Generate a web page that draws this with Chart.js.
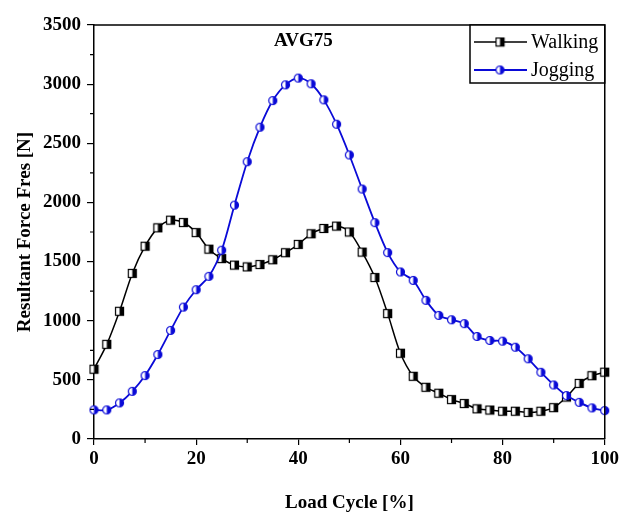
<!DOCTYPE html>
<html><head><meta charset="utf-8">
<script src="https://cdn.jsdelivr.net/npm/chart.js@4.4.0/dist/chart.umd.min.js"></script>
<style>html,body{margin:0;padding:0;background:#fff}#wrap{width:622px;height:516px}</style>
</head><body><div id="wrap"><canvas id="c" width="622" height="516"></canvas></div>
<script>
const loadCycle = [0,2.5,5,7.5,10,12.5,15,17.5,20,22.5,25,27.5,30,32.5,35,37.5,40,42.5,45,47.5,50,52.5,55,57.5,60,62.5,65,67.5,70,72.5,75,77.5,80,82.5,85,87.5,90,92.5,95,97.5,100];
const walking = [590,800,1080,1400,1630,1785,1850,1830,1745,1605,1525,1470,1455,1475,1515,1575,1645,1735,1780,1800,1750,1580,1365,1060,725,530,437,387,333,300,255,245,235,235,225,235,265,355,470,535,565];
const jogging = [246,246,305,403,536,714,918,1115,1262,1375,1596,1977,2344,2636,2861,2994,3051,3003,2867,2661,2401,2113,1829,1576,1412,1341,1172,1045,1008,975,867,833,827,776,678,564,457,367,310,263,240];
const seriesNames = ['Walking','Jogging'];
const xTicks = [0,20,40,60,80,100];
const xMinor = [10,30,50,70,90];
const yTicks = [0,500,1000,1500,2000,2500,3000,3500];
const yMinor = [250,750,1250,1750,2250,2750,3250];
const chartTitle = 'AVG75';

const FONT = "'Liberation Serif', 'Times New Roman', serif";
const BLUE = 'rgb(10,10,215)';

function makeMarker(shape, color){
  const c = document.createElement('canvas');
  c.width = 11; c.height = 11;
  const g = c.getContext('2d');
  g.lineWidth = 1.2;
  g.strokeStyle = color; g.fillStyle = '#fff';
  if (shape === 'square'){
    g.fillRect(1.5,1.5,8,8);
    g.fillStyle = color;
    g.fillRect(5.5,1.5,4,8);
    g.strokeRect(1.5,1.5,8,8);
  } else {
    g.beginPath(); g.arc(5.5,5.5,4,0,Math.PI*2); g.fill();
    g.fillStyle = color;
    g.beginPath(); g.arc(5.5,5.5,4,-Math.PI/2,Math.PI/2); g.closePath(); g.fill();
    g.beginPath(); g.arc(5.5,5.5,4,0,Math.PI*2); g.stroke();
  }
  return c;
}
const sqMarker = makeMarker('square','#000');
const ciMarker = makeMarker('circle',BLUE);

const extras = {
  id: 'extras',
  afterDraw(chart){
    const {ctx, chartArea: a, scales: {x, y}} = chart;
    ctx.save();
    ctx.strokeStyle = '#000'; ctx.lineWidth = 1.5;
    ctx.beginPath();
    ctx.moveTo(a.left, a.top); ctx.lineTo(a.right, a.top); ctx.lineTo(a.right, a.bottom);
    ctx.stroke();
    ctx.lineWidth = 1.2;
    ctx.beginPath();
    xMinor.forEach(v => { const px = x.getPixelForValue(v); ctx.moveTo(px, a.bottom); ctx.lineTo(px, a.bottom + 4); });
    yMinor.forEach(v => { const py = y.getPixelForValue(v); ctx.moveTo(a.left, py); ctx.lineTo(a.left - 4, py); });
    ctx.stroke();
    // title
    ctx.fillStyle = '#000';
    ctx.font = "bold 19px " + FONT;
    ctx.textAlign = 'center'; ctx.textBaseline = 'middle';
    ctx.fillText(chartTitle, x.getPixelForValue(41), y.getPixelForValue(3360));
    // legend
    const lx = 470, ly = 25, lw = a.right - 470, lh = 58;
    ctx.fillStyle = '#fff';
    ctx.fillRect(lx, ly, lw, lh);
    ctx.lineWidth = 1.5; ctx.strokeStyle = '#000';
    ctx.strokeRect(lx, ly, lw, lh);
    const rows = [[seriesNames[0], '#000', sqMarker, 1.5, 42], [seriesNames[1], BLUE, ciMarker, 1.8, 70]];
    rows.forEach(([name, col, mk, lwid, ry]) => {
      ctx.strokeStyle = col; ctx.lineWidth = lwid;
      ctx.beginPath(); ctx.moveTo(474, ry); ctx.lineTo(527, ry); ctx.stroke();
      ctx.drawImage(mk, 500 - 5.5, ry - 5.5);
      ctx.fillStyle = '#000';
      ctx.font = "20px " + FONT;
      ctx.textAlign = 'left'; ctx.textBaseline = 'middle';
      ctx.fillText(name, 531, ry + 1);
    });
    ctx.restore();
  }
};

const toPts = arr => loadCycle.map((v, i) => ({x: v, y: arr[i]}));

new Chart(document.getElementById('c'), {
  type: 'line',
  data: {
    datasets: [
      { label: seriesNames[0], data: toPts(walking), borderColor: '#000', borderWidth: 1.5,
        pointStyle: sqMarker, pointRadius: 5, tension: 0.3, order: 1, clip: false },
      { label: seriesNames[1], data: toPts(jogging), borderColor: BLUE, borderWidth: 1.8,
        pointStyle: ciMarker, pointRadius: 5, tension: 0.3, order: 0, clip: false }
    ]
  },
  options: {
    responsive: false,
    animation: false,
    devicePixelRatio: 1,
    layout: { padding: { left: 0, top: 25, right: 17, bottom: 0 } },
    plugins: { legend: { display: false }, tooltip: { enabled: false } },
    scales: {
      x: {
        type: 'linear', min: 0, max: 100,
        afterBuildTicks: s => { s.ticks = xTicks.map(v => ({value: v})); },
        afterFit: s => { s.height = 77; },
        grid: { drawOnChartArea: false, color: '#000', tickLength: 6, lineWidth: 1.2 },
        border: { display: true, color: '#000', width: 1.5 },
        ticks: { color: '#000', padding: 3, font: { family: FONT, size: 19, weight: 'bold' }, maxRotation: 0,
                 callback: v => String(v) },
        title: { display: true, text: 'Load Cycle [%]', color: '#000', padding: { top: 0, bottom: 2 },
                 font: { family: FONT, size: 19, weight: 'bold' } }
      },
      y: {
        type: 'linear', min: 0, max: 3500,
        afterBuildTicks: s => { s.ticks = yTicks.map(v => ({value: v})); },
        afterFit: s => { s.width = 94; },
        grid: { drawOnChartArea: false, color: '#000', tickLength: 7, lineWidth: 1.2 },
        border: { display: true, color: '#000', width: 1.5 },
        ticks: { color: '#000', padding: 6, font: { family: FONT, size: 19, weight: 'bold' },
                 callback: v => String(v) },
        title: { display: true, text: 'Resultant Force Fres [N]', color: '#000', padding: { top: 14, bottom: 0 },
                 font: { family: FONT, size: 19, weight: 'bold' } }
      }
    }
  },
  plugins: [extras]
});
</script></body></html>
